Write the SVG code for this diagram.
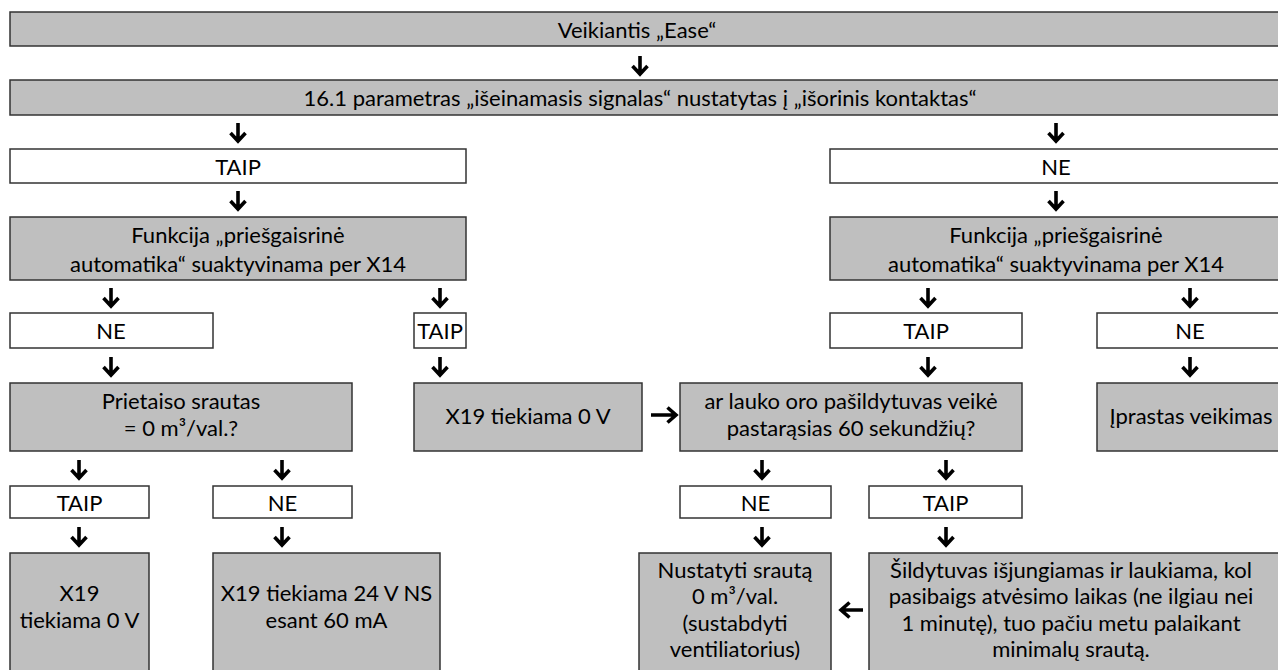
<svg xmlns="http://www.w3.org/2000/svg" xmlns:xlink="http://www.w3.org/1999/xlink" width="1278" height="670" viewBox="0 0 1278 670">
<style>
.g{fill:#bfbfbf;stroke:#333;stroke-width:1.5}
.w{fill:#fff;stroke:#333;stroke-width:1.5}
text{font-family:Lato,"Open Sans","Liberation Sans",sans-serif;font-size:22px;fill:#000;text-anchor:middle;dominant-baseline:central}
.ar{fill:none;stroke:#000;stroke-width:3.6;stroke-linejoin:miter;stroke-linecap:butt}
</style>
<defs>
<path id="ad" class="ar" d="M0,0 V18 M-7.5,10 L0,18 L7.5,10"/>
<path id="arr" class="ar" d="M0,0 H25 M16.5,-7.5 L25,0 L16.5,7.5"/>
<path id="al" class="ar" d="M0,0 H-22 M-13.5,-7.5 L-22,0 L-13.5,7.5"/>
</defs>
<rect width="1278" height="670" fill="#fff"/>
<g id="connectors">
<use xlink:href="#ad" x="640" y="56"/>
<use xlink:href="#ad" x="238" y="123"/>
<use xlink:href="#ad" x="1056" y="123"/>
<use xlink:href="#ad" x="238" y="191"/>
<use xlink:href="#ad" x="1056" y="191"/>
<use xlink:href="#ad" x="111" y="288"/>
<use xlink:href="#ad" x="440" y="288"/>
<use xlink:href="#ad" x="928" y="288"/>
<use xlink:href="#ad" x="1190" y="288"/>
<use xlink:href="#ad" x="111" y="357"/>
<use xlink:href="#ad" x="440" y="357"/>
<use xlink:href="#ad" x="928" y="357"/>
<use xlink:href="#ad" x="1190" y="357"/>
<use xlink:href="#ad" x="79" y="460"/>
<use xlink:href="#ad" x="282" y="460"/>
<use xlink:href="#ad" x="762" y="460"/>
<use xlink:href="#ad" x="946" y="460"/>
<use xlink:href="#ad" x="79" y="527"/>
<use xlink:href="#ad" x="282" y="527"/>
<use xlink:href="#ad" x="762" y="527"/>
<use xlink:href="#ad" x="946" y="527"/>
<use xlink:href="#arr" x="651" y="415"/>
<use xlink:href="#al" x="863" y="610"/>
</g>
<g id="n-start"><rect class="g" x="10" y="12" width="1272" height="34"/><text x="637" y="29">Veikiantis „Ease“</text></g>
<g id="n-param"><rect class="g" x="10" y="80" width="1272" height="35"/><text x="640" y="97.5">16.1 parametras „išeinamasis signalas“ nustatytas į „išorinis kontaktas“</text></g>
<g id="n-taip1"><rect class="w" x="10" y="149" width="456" height="34"/><text x="238" y="166">TAIP</text></g>
<g id="n-ne1"><rect class="w" x="830" y="149" width="452" height="34"/><text x="1056" y="166">NE</text></g>
<g id="n-func-l"><rect class="g" x="10" y="217" width="456" height="63"/><text x="238" y="234.5">Funkcija „priešgaisrinė</text><text x="238" y="263">automatika“ suaktyvinama per X14</text></g>
<g id="n-func-r"><rect class="g" x="830" y="217" width="452" height="63"/><text x="1056" y="234.5">Funkcija „priešgaisrinė</text><text x="1056" y="263">automatika“ suaktyvinama per X14</text></g>
<g id="n-ne2"><rect class="w" x="10" y="313" width="203" height="35"/><text x="111" y="330.5">NE</text></g>
<g id="n-taip2"><rect class="w" x="414" y="313" width="52" height="35"/><text x="440" y="330.5">TAIP</text></g>
<g id="n-taip3"><rect class="w" x="830" y="313" width="192" height="35"/><text x="926" y="330.5">TAIP</text></g>
<g id="n-ne3"><rect class="w" x="1097" y="313" width="185" height="35"/><text x="1190" y="330.5">NE</text></g>
<g id="n-flow"><rect class="g" x="10" y="383" width="342" height="68"/><text x="181" y="400">Prietaiso srautas</text><text x="181" y="427.5">= 0 m³/val.?</text></g>
<g id="n-x19a"><rect class="g" x="414" y="383" width="228" height="68"/><text x="528" y="415">X19 tiekiama 0 V</text></g>
<g id="n-heater"><rect class="g" x="680" y="383" width="342" height="68"/><text x="851" y="400">ar lauko oro pašildytuvas veikė</text><text x="851" y="427.5">pastarąsias 60 sekundžių?</text></g>
<g id="n-normal"><rect class="g" x="1097" y="383" width="185" height="68"/><text x="1191" y="415">Įprastas veikimas</text></g>
<g id="n-taip4"><rect class="w" x="10" y="486" width="139" height="32"/><text x="79.5" y="502">TAIP</text></g>
<g id="n-ne4"><rect class="w" x="213" y="486" width="139" height="32"/><text x="282.5" y="502">NE</text></g>
<g id="n-ne5"><rect class="w" x="680" y="486" width="151" height="32"/><text x="755.5" y="502">NE</text></g>
<g id="n-taip5"><rect class="w" x="869" y="486" width="153" height="32"/><text x="945.5" y="502">TAIP</text></g>
<g id="n-x19b"><rect class="g" x="10" y="553" width="139" height="130"/><text x="79.5" y="592">X19</text><text x="79.5" y="619">tiekiama 0 V</text></g>
<g id="n-x19c"><rect class="g" x="213" y="553" width="227" height="130"/><text x="326.5" y="592">X19 tiekiama 24 V NS</text><text x="326.5" y="619">esant 60 mA</text></g>
<g id="n-stop"><rect class="g" x="639" y="553" width="192" height="130"/><text x="735" y="569">Nustatyti srautą</text><text x="735" y="595.5">0 m³/val.</text><text x="735" y="622">(sustabdyti</text><text x="735" y="648.5">ventiliatorius)</text></g>
<g id="n-cool"><rect class="g" x="869" y="553" width="413" height="130"/><text x="1071" y="569">Šildytuvas išjungiamas ir laukiama, kol</text><text x="1071" y="595.5">pasibaigs atvėsimo laikas (ne ilgiau nei</text><text x="1071" y="622">1 minutę), tuo pačiu metu palaikant</text><text x="1071" y="648.5">minimalų srautą.</text></g>
</svg>
